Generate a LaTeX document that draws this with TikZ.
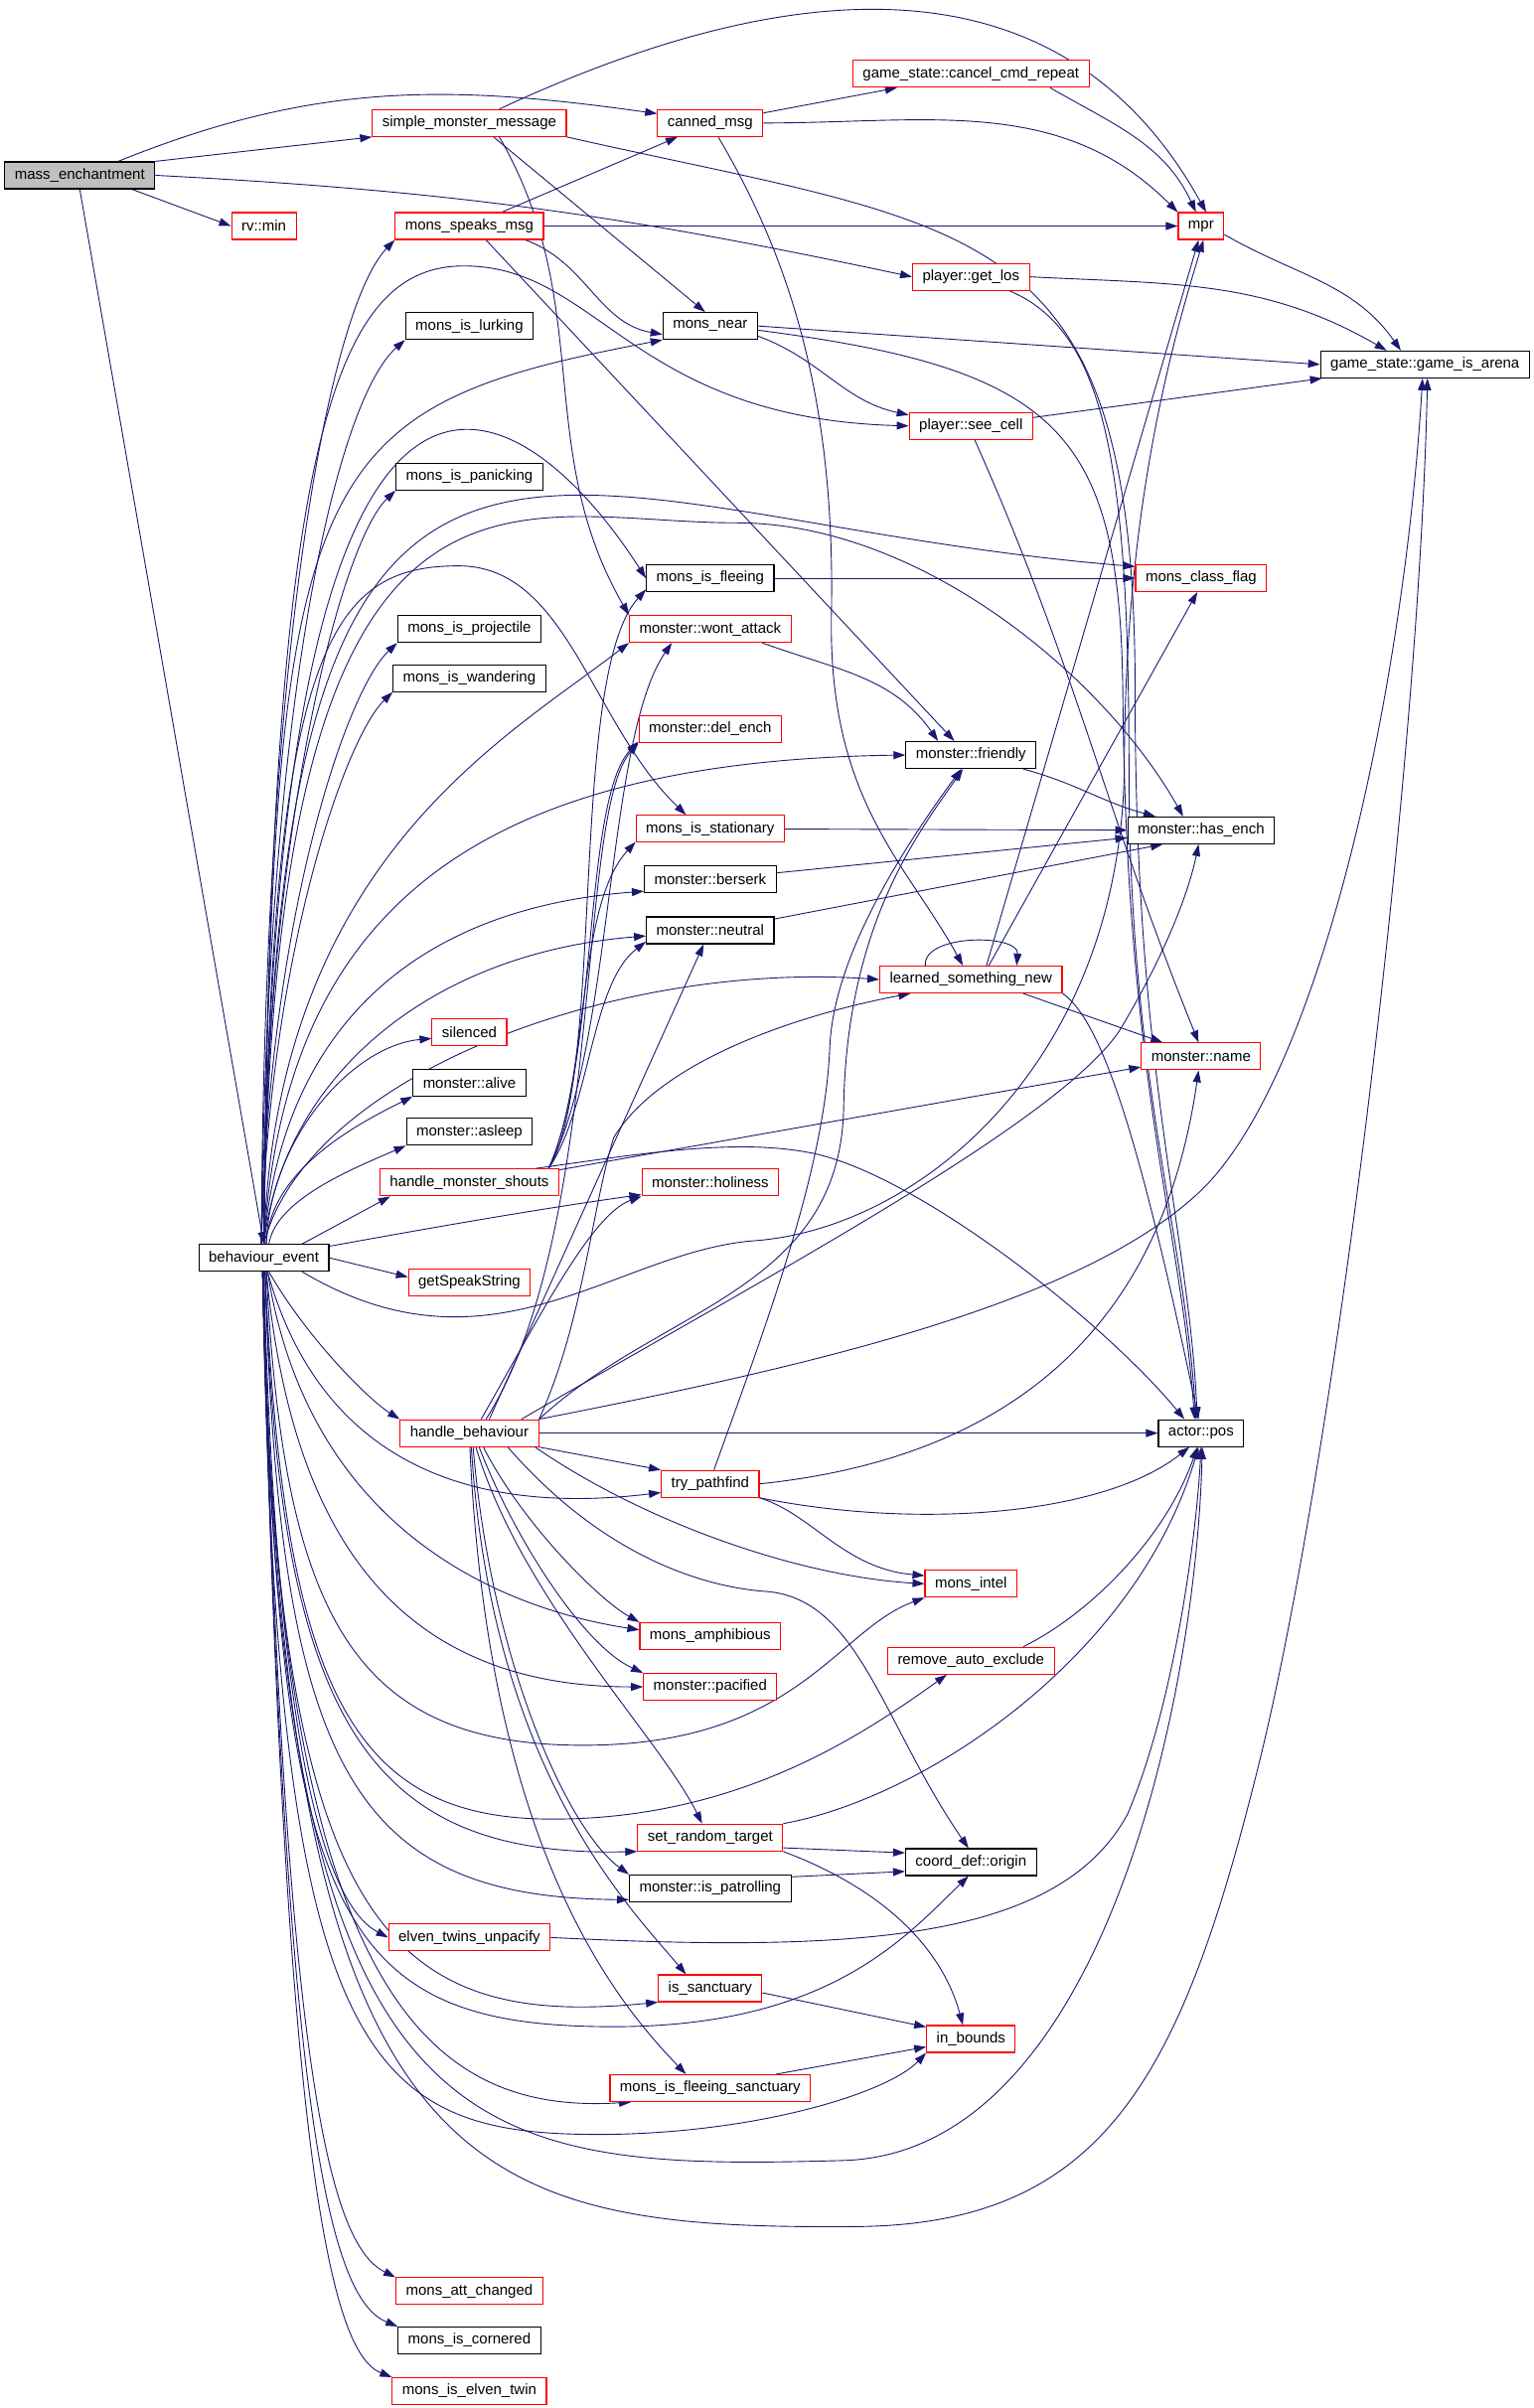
\documentclass[tikz,border=0pt]{standalone}
\usepackage{fontspec}
\setmainfont{Liberation Sans}
\usepackage{tikz}
\usetikzlibrary{arrows.meta}
\pgfdeclarelayer{background}
\pgfsetlayers{background,main}
\definecolor{edgeblue}{RGB}{25,25,112}
\definecolor{boxred}{RGB}{255,0,0}
\definecolor{rootgray}{RGB}{191,191,191}

\begin{document}
\begin{tikzpicture}[x=1.544pt,y=-1.548pt,
    fn/.style={draw=black,line width=1.1pt,fill=white,inner xsep=10pt,inner ysep=0pt,minimum height=27pt,font=\fontsize{15}{18}\selectfont},
    rn/.style={fn,draw=boxred},
    root/.style={fn,fill=rootgray},
    call/.style={draw=edgeblue,line width=0.9pt,-{Triangle[length=12pt,width=8pt]}}]
    \pgfmathsetmacro{\colA}{52}
    \pgfmathsetmacro{\colB}{172}
    \pgfmathsetmacro{\colC}{306}
    \pgfmathsetmacro{\colD}{463}
    \pgfmathsetmacro{\colE}{633}
    \pgfmathsetmacro{\colF}{783}
    \pgfmathsetmacro{\colG}{929}

    \node[root] (me) at (\colA,114) {mass\_enchantment};
    \node[rn] (rvmin) at (\colB,147) {rv::min};
    \node[fn] (be) at (\colB,818) {behaviour\_event};

    \node[rn] (smm) at (\colC,80) {simple\_monster\_message};
    \node[rn] (msm) at (\colC,147) {mons\_speaks\_msg};
    \node[fn] (lurk) at (\colC,212) {mons\_is\_lurking};
    \node[fn] (panic) at (\colC,310) {mons\_is\_panicking};
    \node[fn] (proj) at (\colC,409) {mons\_is\_projectile};
    \node[fn] (wander) at (\colC,441) {mons\_is\_wandering};
    \node[rn] (silenced) at (\colC,671) {silenced};
    \node[fn] (alive) at (\colC,704) {monster::alive};
    \node[fn] (asleep) at (\colC,736) {monster::asleep};
    \node[rn] (hms) at (\colC,769) {handle\_monster\_shouts};
    \node[rn] (speak) at (\colC,834) {getSpeakString};
    \node[rn] (hb) at (\colC,932) {handle\_behaviour};
    \node[rn] (etu) at (\colC,1260) {elven\_twins\_unpacify};
    \node[rn] (attch) at (\colC,1490) {mons\_att\_changed};
    \node[fn] (cornered) at (\colC,1522) {mons\_is\_cornered};
    \node[rn] (elven) at (\colC,1555) {mons\_is\_elven\_twin};

    \node[rn] (cm) at (\colD,80) {canned\_msg};
    \node[fn] (near) at (\colD,212) {mons\_near};
    \node[fn] (flee) at (\colD,376) {mons\_is\_fleeing};
    \node[rn] (wont) at (\colD,409) {monster::wont\_attack};
    \node[rn] (delench) at (\colD,474) {monster::del\_ench};
    \node[rn] (stationary) at (\colD,539) {mons\_is\_stationary};
    \node[fn] (berserk) at (\colD,572) {monster::berserk};
    \node[fn] (neutral) at (\colD,605) {monster::neutral};
    \node[rn] (holiness) at (\colD,769) {monster::holiness};
    \node[rn] (pathfind) at (\colD,965) {try\_pathfind};
    \node[rn] (amphib) at (\colD,1064) {mons\_amphibious};
    \node[rn] (pacified) at (\colD,1097) {monster::pacified};
    \node[rn] (srt) at (\colD,1195) {set\_random\_target};
    \node[fn] (patrol) at (\colD,1228) {monster::is\_patrolling};
    \node[rn] (sanct) at (\colD,1293) {is\_sanctuary};
    \node[rn] (mfs) at (\colD,1358) {mons\_is\_fleeing\_sanctuary};

    \node[rn] (ccr) at (\colE,48) {game\_state::cancel\_cmd\_repeat};
    \node[rn] (getlos) at (\colE,180) {player::get\_los};
    \node[rn] (seecell) at (\colE,277) {player::see\_cell};
    \node[fn] (friendly) at (\colE,491) {monster::friendly};
    \node[rn] (lsn) at (\colE,637) {learned\_something\_new};
    \node[rn] (intel) at (\colE,1030) {mons\_intel};
    \node[rn] (rae) at (\colE,1080) {remove\_auto\_exclude};
    \node[fn] (origin) at (\colE,1211) {coord\_def::origin};
    \node[rn] (inbounds) at (\colE,1326) {in\_bounds};

    \node[rn] (mpr) at (\colF,147) {mpr};
    \node[rn] (classflag) at (\colF,376) {mons\_class\_flag};
    \node[fn] (hasench) at (\colF,540) {monster::has\_ench};
    \node[rn] (name) at (\colF,687) {monster::name};
    \node[fn] (pos) at (\colF,932) {actor::pos};

    \node[fn] (arena) at (\colG,237) {game\_state::game\_is\_arena};

    \begin{pgfonlayer}{background}
    \path[use as bounding box,fill=white] (0,0) rectangle (1000,1566);

    \draw[call] (me.20) to[out=22,in=172] (cm.170);
    \draw[call] (me.north east) -- (smm.south west);
    \draw[call] (me.-15) -- (rvmin.west);
    \draw[call] (me.east) to[out=-3,in=168] (getlos.west);
    \draw[call] (me.south) -- (be.north);

    \draw[call] (smm.25) to[out=25,in=119,looseness=1.1] (mpr.70);
    \draw[call] (smm.-30) -- (near.110);
    \draw[call] (smm.-25) to[out=-60,in=120] (wont.north west);
    \draw[call] (smm.south east) .. controls (640,150) and (740,140) .. (740,450) .. controls (740,700) and (775,800) .. (pos.105);

    \draw[call] (cm) -- (ccr);
    \draw[call] (cm.east) to[out=0,in=135] (mpr.north west);
    \draw[call] (cm.-60) .. controls (510,160) and (545,250) .. (542,400) .. controls (540,520) and (590,560) .. (lsn.120);
    \draw[call] (ccr.-10) to[out=-30,in=115] (mpr.110);

    \draw[call] (msm) -- (cm);
    \draw[call] (msm) -- (mpr);
    \draw[call] (msm.-14) to[out=-20,in=170] (near.-170);
    \draw[call] (msm.-40) -- (friendly.140);

    \draw[call] (getlos.east) to[out=-3,in=150] (arena.160);
    \draw[call] (getlos.-20) .. controls (720,215) and (736,300) .. (736,500) .. controls (736,700) and (772,800) .. (pos.110);
    \draw[call] (near.east) -- (arena.west);
    \draw[call] (near.-12) to[out=-20,in=168] (seecell.170);
    \draw[call] (near.-5) .. controls (690,240) and (730,280) .. (732,450) .. controls (734,700) and (770,800) .. (pos.115);
    \draw[call] (seecell) -- (arena);
    \draw[call] (seecell.-75) to[out=-66,in=112] (name.100);
    \draw[call] (mpr.-20) to[out=-30,in=125] (arena.150);

    \draw[call] (flee) -- (classflag);
    \draw[call] (wont.-15) to[out=-20,in=125] (friendly.157);
    \draw[call] (friendly.-15) to[out=-15,in=165] (hasench.163);
    \draw[call] (stationary) -- (hasench);
    \draw[call] (berserk) -- (hasench);
    \draw[call] (neutral.10) -- (hasench.-160);

    \draw[call] (lsn.163) to[out=95,in=85,looseness=0.9] (lsn.17);
    \draw[call] (lsn.42) -- (mpr.-100);
    \draw[call] (lsn.38) -- (classflag.-105);
    \draw[call] (lsn.-15) -- (name.160);
    \draw[call] (lsn.south east) .. controls (720,665) and (745,750) .. (pos.100);

    \draw[call] (pathfind.75) .. controls (500,860) and (538,760) .. (541,680) .. controls (544,620) and (590,550) .. (friendly.-125);
    \draw[call] (pathfind.east) .. controls (640,950) and (755,880) .. (name.-100);
    \draw[call] (pathfind.south east) .. controls (600,995) and (720,985) .. (pos.-130);
    \draw[call] (pathfind.south east) .. controls (530,985) and (550,1020) .. (intel.170);

    \draw[call] (rae.15) .. controls (710,1050) and (760,1000) .. (pos.-105);
    \draw[call] (srt.north east) .. controls (600,1170) and (740,1080) .. (pos.-100);
    \draw[call] (srt.-8) -- (origin.172);
    \draw[call] (srt.south east) .. controls (580,1230) and (615,1270) .. (inbounds.120);
    \draw[call] (patrol.8) -- (origin.-172);
    \draw[call] (etu.east) .. controls (560,1270) and (690,1262) .. (735,1180) .. controls (765,1110) and (780,1000) .. (pos.-90);
    \draw[call] (sanct.-5) -- (inbounds.165);
    \draw[call] (mfs.12) -- (inbounds.-170);

    \draw[call] (hms.12) .. controls (420,750) and (480,740) .. (530,750) .. controls (600,765) and (720,860) .. (pos.140);
    \draw[call] (hms.8) -- (name.-170);
    \draw[call] (hms.10) .. controls (395,700) and (370,440) .. (flee.-170);
    \draw[call] (hms.10) .. controls (400,680) and (395,480) .. (wont.-160);
    \draw[call] (hms.10) .. controls (390,690) and (380,520) .. (delench.-170);
    \draw[call] (hms.10) .. controls (385,700) and (375,590) .. (stationary.-170);
    \draw[call] (hms.10) .. controls (385,720) and (385,640) .. (neutral.-170);

    \draw[call] (hb) -- (pos);
    \draw[call] (hb.south east) -- (pathfind.north west);
    \draw[call] (hb.-12) .. controls (420,990) and (520,1025) .. (intel.west);
    \draw[call] (hb.-45) .. controls (340,990) and (390,1040) .. (amphib.north west);
    \draw[call] (hb.-55) .. controls (335,1000) and (380,1070) .. (pacified.north west);
    \draw[call] (hb.-65) .. controls (340,1040) and (430,1130) .. (srt.120);
    \draw[call] (hb.-75) .. controls (320,1080) and (370,1190) .. (patrol.north west);
    \draw[call] (hb.-82) .. controls (320,1150) and (410,1240) .. (sanct.150);
    \draw[call] (hb.-88) .. controls (318,1200) and (400,1300) .. (mfs.150);
    \draw[call] (hb.-20) .. controls (400,1020) and (470,1033) .. (500,1035) .. controls (560,1040) and (575,1120) .. (origin.100);
    \draw[call] (hb.north east) .. controls (520,890) and (700,850) .. (780,777) .. controls (860,705) and (915,450) .. (arena.-100);
    \draw[call] (hb.15) .. controls (500,830) and (690,730) .. (730,670) .. controls (760,620) and (775,580) .. (hasench.-100);
    \draw[call] (hb.35) -- (neutral.-115);
    \draw[call] (hb.north east) .. controls (430,850) and (548,840) .. (550,720) .. controls (552,600) and (600,540) .. (friendly.-120);
    \draw[call] (hb.50) .. controls (350,860) and (385,790) .. (holiness.south west);
    \draw[call] (hb.north east) .. controls (380,860) and (385,790) .. (400,740) .. controls (430,690) and (520,660) .. (lsn.-167);
    \draw[call] (hb.40) .. controls (395,800) and (375,530) .. (delench.south west);

    \draw[call] (be.100) .. controls (172,420) and (215,200) .. (msm.south west);
    \draw[call] (be.100) .. controls (174,450) and (220,260) .. (lurk.south west);
    \draw[call] (be.north) .. controls (178,300) and (200,265) .. (near.south west);
    \draw[call] (be.north) .. controls (176,300) and (215,175) .. (300,173) .. controls (390,171) and (410,272) .. (seecell.west);
    \draw[call] (be.100) .. controls (175,520) and (225,350) .. (panic.south west);
    \draw[call] (be.north) .. controls (178,129) and (344,256) .. (flee.west);
    \draw[call] (be.north) .. controls (179,159) and (341,336) .. (classflag.170);
    \draw[call] (be.north) .. controls (178,260) and (330,340) .. (480,340) .. controls (600,340) and (720,440) .. (hasench.142);
    \draw[call] (be.100) .. controls (175,600) and (225,450) .. (proj.south west);
    \draw[call] (be.north) .. controls (176,420) and (215,368) .. (299,368) .. controls (370,368) and (385,470) .. (stationary.150);
    \draw[call] (be.100) .. controls (176,620) and (225,480) .. (wander.south west);
    \draw[call] (be.north) .. controls (180,560) and (330,480) .. (wont.south west);
    \draw[call] (be.north) .. controls (185,600) and (300,495) .. (friendly.west);
    \draw[call] (be.north) .. controls (185,660) and (280,590) .. (berserk.-170);
    \draw[call] (be.north) .. controls (185,700) and (280,620) .. (neutral.-175);
    \draw[call] (be.north) .. controls (200,700) and (400,625) .. (lsn.west);
    \draw[call] (be.80) .. controls (176,740) and (230,680) .. (silenced.-170);
    \draw[call] (be.80) .. controls (176,760) and (235,730) .. (alive.south west);
    \draw[call] (be.70) .. controls (180,780) and (230,760) .. (asleep.south west);
    \draw[call] (be.20) -- (hms.-170);
    \draw[call] (be.10) .. controls (300,795) and (360,785) .. (holiness.-170);
    \draw[call] (be.east) -- (speak.175);
    \draw[call] (be.-20) .. controls (320,900) and (400,815) .. (490,807) .. controls (600,800) and (730,690) .. (733,500) .. controls (733,330) and (765,220) .. (mpr.-80);
    \draw[call] (be.-70) .. controls (200,870) and (240,910) .. (hb.north west);
    \draw[call] (be.-75) .. controls (200,920) and (270,990) .. (pathfind.-170);
    \draw[call] (be.-75) .. controls (200,990) and (320,1045) .. (amphib.175);
    \draw[call] (be.-80) .. controls (190,1000) and (260,1097) .. (pacified.west);
    \draw[call] (be.-80) .. controls (185,1050) and (230,1135) .. (380,1135) .. controls (520,1135) and (545,1060) .. (intel.south west);
    \draw[call] (be.-85) .. controls (185,1100) and (230,1183) .. (360,1183) .. controls (480,1183) and (560,1130) .. (rae.-150);
    \draw[call] (be.-85) .. controls (182,1120) and (240,1208) .. (srt.south west);
    \draw[call] (be.-85) .. controls (182,1150) and (230,1234) .. (patrol.-172);
    \draw[call] (be.-90) .. controls (180,1150) and (215,1240) .. (etu.west);
    \draw[call] (be.-90) .. controls (180,1250) and (220,1318) .. (400,1318) .. controls (540,1318) and (590,1260) .. (origin.-100);
    \draw[call] (be.-95) .. controls (180,1250) and (250,1320) .. (sanct.south west);
    \draw[call] (be.-95) .. controls (180,1300) and (280,1375) .. (mfs.-170);
    \draw[call] (be.-95) .. controls (180,1350) and (240,1390) .. (400,1388) .. controls (500,1386) and (580,1360) .. (inbounds.south west);
    \draw[call] (be.-95) .. controls (180,1400) and (300,1412) .. (550,1405) .. controls (720,1400) and (780,1100) .. (pos.-85);
    \draw[call] (be.-95) .. controls (185,1420) and (300,1450) .. (560,1448) .. controls (720,1446) and (770,1350) .. (820,1150) .. controls (870,950) and (925,500) .. (arena.-80);
    \draw[call] (be.-95) .. controls (185,1350) and (215,1460) .. (attch.north west);
    \draw[call] (be.-95) .. controls (185,1380) and (215,1495) .. (cornered.north west);
    \draw[call] (be.-95) .. controls (185,1400) and (215,1530) .. (elven.north west);
    \end{pgfonlayer}
\end{tikzpicture}
\end{document}
